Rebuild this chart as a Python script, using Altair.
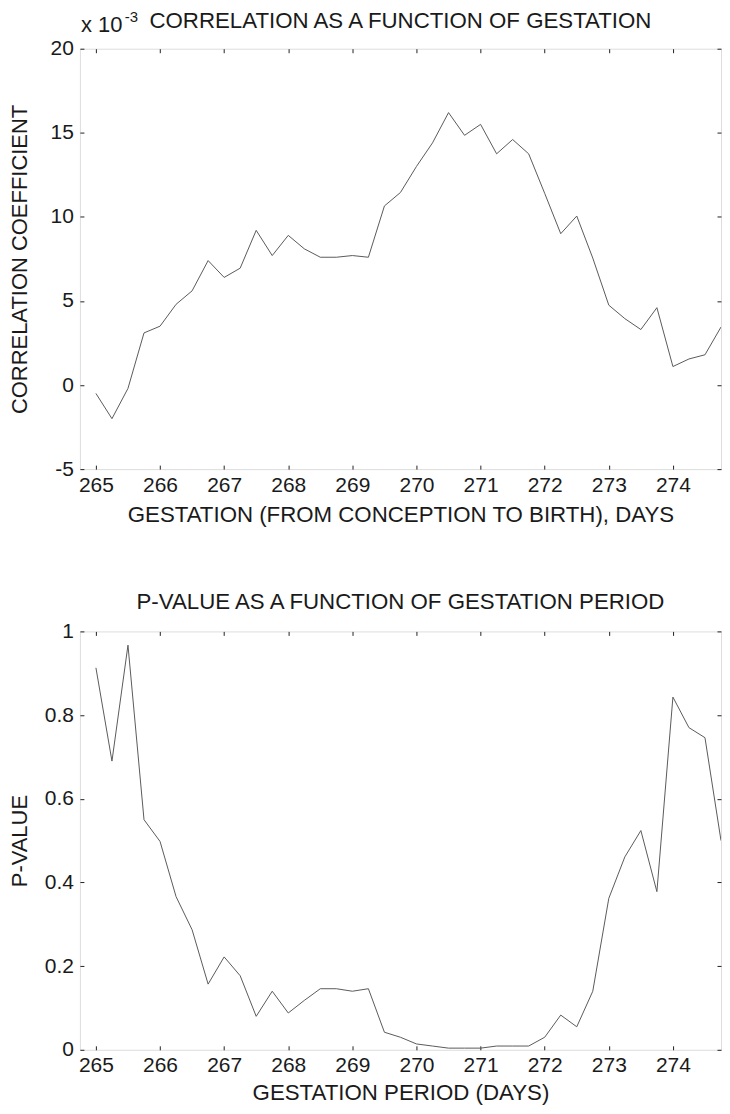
import altair as alt
import pandas as pd

# ---- data ----
days = [265.0, 265.25, 265.5, 265.75, 266.0, 266.25, 266.5, 266.75,
        267.0, 267.25, 267.5, 267.75, 268.0, 268.25, 268.5, 268.75,
        269.0, 269.25, 269.5, 269.75, 270.0, 270.25, 270.5, 270.75,
        271.0, 271.25, 271.5, 271.75, 272.0, 272.25, 272.5, 272.75,
        273.0, 273.25, 273.5, 273.75, 274.0, 274.25, 274.5, 274.75]

# correlation coefficient, in units of 1e-3
corr_e3 = [-0.5, -2.0, -0.2, 3.1, 3.5, 4.8, 5.6, 7.4,
           6.4, 6.95, 9.2, 7.7, 8.9, 8.1, 7.6, 7.6,
           7.7, 7.6, 10.65, 11.45, 13.0, 14.4, 16.2, 14.85,
           15.5, 13.75, 14.6, 13.75, 11.4, 9.0, 10.05, 7.55,
           4.75, 3.95, 3.3, 4.6, 1.1, 1.55, 1.8, 3.45]

pvalue = [0.913, 0.69, 0.967, 0.55, 0.498, 0.366, 0.287, 0.157,
          0.222, 0.177, 0.08, 0.14, 0.088, 0.118, 0.146, 0.146,
          0.14, 0.146, 0.042, 0.03, 0.014, 0.009, 0.004, 0.004,
          0.004, 0.009, 0.009, 0.009, 0.03, 0.083, 0.055, 0.14,
          0.362, 0.461, 0.524, 0.378, 0.843, 0.77, 0.746, 0.50]

x_ticks = [265, 266, 267, 268, 269, 270, 271, 272, 273, 274]
corr_ticks = [-5, 0, 5, 10, 15, 20]
p_ticks = [0, 0.2, 0.4, 0.6, 0.8, 1]

top_title = ["CORRELATION AS A FUNCTION OF GESTATION"]
top_xtitle = "GESTATION (FROM CONCEPTION TO BIRTH), DAYS"
top_ytitle = "CORRELATION COEFFICIENT"
bot_title = ["P-VALUE AS A FUNCTION OF GESTATION PERIOD"]
bot_xtitle = "GESTATION PERIOD (DAYS)"
bot_ytitle = "P-VALUE"
mult_base = ["x 10"]
mult_exp = ["-3"]

# ---- style ----
W = 642
H1 = 421
H2 = 419
FONT = "Liberation Sans"
TXT = "#1a1a1a"
X_DOMAIN = [264.75, 274.75]
LBL = "datum.value + ''"

df = pd.DataFrame({"day": days, "corr": corr_e3, "p": pvalue})


def tick_axis(orient, offset, values):
    return alt.Axis(orient=orient, offset=offset, values=values, labels=False,
                    domain=False, grid=False, ticks=True, tickSize=4,
                    tickColor="#222222", tickWidth=1, title=None)


def text_layer(values, size, x, y, align="left", baseline="top"):
    return alt.Chart(pd.DataFrame({"t": values})).mark_text(
        align=align, baseline=baseline, fontSize=size, font=FONT, color=TXT
    ).encode(text="t:N", x=alt.value(x), y=alt.value(y))


def panel(field, ydomain, yticks, ytitle, xtitle, H, lpad, tpad, extra):
    xs = alt.Scale(domain=X_DOMAIN, nice=False, zero=False)
    ys = alt.Scale(domain=ydomain, nice=False, zero=False)
    main = alt.Chart(df).mark_line(color="#5a5a5a", strokeWidth=1, clip=True).encode(
        x=alt.X("day:Q", scale=xs, axis=alt.Axis(
            orient="bottom", values=x_ticks, labelExpr=LBL, ticks=False,
            domain=False, grid=False, labelPadding=lpad, labelFontSize=21,
            labelColor=TXT, labelFont=FONT, title=xtitle, titleFont=FONT,
            titleFontSize=22.3, titleFontWeight="normal", titleColor=TXT,
            titlePadding=tpad)),
        y=alt.Y(f"{field}:Q", scale=ys, axis=alt.Axis(
            orient="left", values=yticks, labelExpr=LBL, ticks=False,
            domain=False, grid=False, labelPadding=6.5, labelFontSize=21,
            labelColor=TXT, labelFont=FONT, title=ytitle, titleFont=FONT,
            titleFontSize=22, titleFontWeight="normal", titleColor=TXT,
            titleX=-70, titleY=H / 2, titleAngle=270,
            titleBaseline="top", titleAlign="center")),
    )
    inner1 = alt.Chart(df).mark_line(opacity=0).encode(
        x=alt.X("day:Q", scale=xs, axis=tick_axis("top", -H, x_ticks)),
        y=alt.Y(f"{field}:Q", scale=ys, axis=tick_axis("right", -W, yticks)),
    )
    inner2 = alt.Chart(df).mark_line(opacity=0).encode(
        x=alt.X("day:Q", scale=xs, axis=tick_axis("bottom", -H, x_ticks)),
        y=alt.Y(f"{field}:Q", scale=ys, axis=tick_axis("left", -W, yticks)),
    )
    layers = [main, inner1, inner2] + extra
    return alt.layer(*layers).resolve_axis(x="independent", y="independent").properties(
        width=W, height=H)


top_extra = [
    text_layer(top_title, 22.3, W / 2, -39, align="center"),
    text_layer(mult_base, 22, 1, -34),
    text_layer(mult_exp, 15, 45, -39),
]
bot_extra = [
    text_layer(bot_title, 22.3, W / 2, -22, align="center", baseline="alphabetic"),
]

top = panel("corr", [-5, 20], corr_ticks, top_ytitle, top_xtitle,
            H1, 5.5, 7.5, top_extra)
bottom = panel("p", [0, 1], p_ticks, bot_ytitle, bot_xtitle,
               H2, 4.5, 6, bot_extra)

chart = alt.vconcat(top, bottom, spacing=64.5).properties(
    padding={"left": 0, "top": 0, "right": 0, "bottom": 0}
).configure_view(stroke="#a0a0a0", strokeWidth=1).configure(background="white")

chart.save("out.html", embed_options={"renderer": "svg", "actions": False})
